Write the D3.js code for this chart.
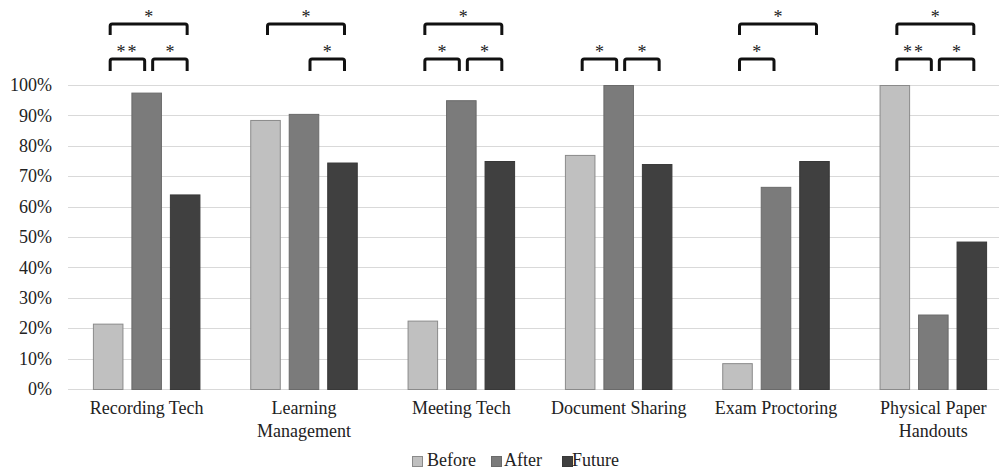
<!DOCTYPE html>
<html><head><meta charset="utf-8">
<script src="https://cdn.jsdelivr.net/npm/d3@7"></script>
<style>body{margin:0;background:#fff}svg{display:block}</style>
</head><body>
<svg id="c" width="999" height="470"></svg>
<script>
const categories = [["Recording Tech"],["Learning","Management"],["Meeting Tech"],["Document Sharing"],["Exam Proctoring"],["Physical Paper","Handouts"]];
const catKeys = categories.map(c=>c.join(" "));
const seriesNames = ["Before","After","Future"];
const before = [21.5, 88.5, 22.5, 77, 8.5, 100];
const after  = [97.5, 90.5, 95, 100, 66.5, 24.5];
const future = [64, 74.5, 75, 74, 75, 48.5];
const yTicks = [0,10,20,30,40,50,60,70,80,90,100];
// significance brackets: category index, from series, to series, level (0 lower,1 upper), label
const brackets = [
  [0,"Before","After",0,"**"],[0,"After","Future",0,"*"],[0,"Before","Future",1,"*"],
  [1,"After","Future",0,"*"],[1,"Before","Future",1,"*"],
  [2,"Before","After",0,"*"],[2,"After","Future",0,"*"],[2,"Before","Future",1,"*"],
  [3,"Before","After",0,"*"],[3,"After","Future",0,"*"],
  [4,"Before","After",0,"*"],[4,"Before","Future",1,"*"],
  [5,"Before","After",0,"**"],[5,"After","Future",0,"*"],[5,"Before","Future",1,"*"]
];
const colors = {Before:"#c0c0c0", After:"#7b7b7b", Future:"#404040"};
const strokes = {Before:"#8a8a8a", After:"#6a6a6a", Future:"#383838"};
const seriesData = {Before:before, After:after, Future:future};

const svg = d3.select("#c");
const font = "'Liberation Serif','Times New Roman',serif";
const L=68, R=1012, T=85, B=389;
const x0 = d3.scaleBand().domain(catKeys).range([L,R]).paddingInner(0.3166).paddingOuter(0.1583);
const x1 = d3.scaleBand().domain(seriesNames).range([0,x0.bandwidth()]).paddingInner(8/38.7).paddingOuter(0);
const y = d3.scaleLinear().domain([0,100]).range([B,T]);

// grid
svg.append("g").selectAll("line").data(yTicks).join("line")
  .attr("x1",L).attr("x2",999).attr("y1",d=>Math.round(y(d))+0.5).attr("y2",d=>Math.round(y(d))+0.5)
  .attr("stroke","#d9d9d9").attr("stroke-width",1);

// y axis labels
const yAxis = d3.axisLeft(y).tickValues(yTicks).tickFormat(d=>d+"%").tickSize(0).tickPadding(0);
const ya = svg.append("g").attr("transform",`translate(${52},0)`).call(yAxis);
ya.select(".domain").remove();
ya.selectAll("text").attr("font-family",font).attr("font-size",18).attr("fill","#222").attr("dy","0.32em");

// bars
const groups = svg.append("g").selectAll("g").data(catKeys).join("g")
  .attr("transform",d=>`translate(${x0(d)},0)`);
groups.selectAll("rect").data((d,i)=>seriesNames.map(s=>({s,v:seriesData[s][i]}))).join("rect")
  .attr("x",d=>x1(d.s)+0.5).attr("width",x1.bandwidth()-1)
  .attr("y",d=>y(d.v)+0.5).attr("height",d=>B-y(d.v))
  .attr("fill",d=>colors[d.s]).attr("stroke",d=>strokes[d.s]).attr("stroke-width",1);

// category labels
const cl = svg.append("g").selectAll("text").data(categories).join("text")
  .attr("x",(d,i)=>x0(catKeys[i])+x0.bandwidth()/2).attr("y",414)
  .attr("text-anchor","middle").attr("font-family",font).attr("font-size",18).attr("fill","#222");
cl.selectAll("tspan").data(d=>d).join("tspan")
  .attr("x",function(){return this.parentNode.getAttribute("x");})
  .attr("dy",(d,i)=>i?23:0).text(d=>d);

// brackets
const bg = svg.append("g");
brackets.forEach(([ci,a,b,lvl,lab])=>{
  const base = x0(catKeys[ci]);
  let xa = base + x1(a) + x1.bandwidth()/2 + 2;
  let xb = base + x1(b) + x1.bandwidth()/2 + 2;
  if(lvl===0){ if(a!=="Before") xa += 4; if(b!=="Future") xb -= 4; }
  const yTop = lvl?24:59, yBot = lvl?35:71;
  bg.append("path").attr("d",`M${xa},${yBot} L${xa},${yTop+2} Q${xa},${yTop} ${xa+2},${yTop} L${xb-2},${yTop} Q${xb},${yTop} ${xb},${yTop+2} L${xb},${yBot}`)
    .attr("fill","none").attr("stroke","#111").attr("stroke-width",3);
  bg.append("text").attr("x",(xa+xb)/2).attr("y",lvl?23:58).attr("text-anchor","middle")
    .attr("font-family",font).attr("font-size",18).attr("fill","#222").attr("letter-spacing",lab.length>1?2:0).text(lab);
});

// legend
const legendItems = [["Before",412,427],["After",491,504],["Future",562,572]];
const lg = svg.append("g").selectAll("g").data(legendItems).join("g");
lg.append("rect").attr("x",d=>d[1]+0.5).attr("y",456.5).attr("width",10).attr("height",10)
  .attr("fill",d=>colors[d[0]]).attr("stroke",d=>strokes[d[0]]);
lg.append("text").attr("x",d=>d[2]).attr("y",466).attr("font-family",font).attr("font-size",18).attr("fill","#222").text(d=>d[0]);
</script>
</body></html>
